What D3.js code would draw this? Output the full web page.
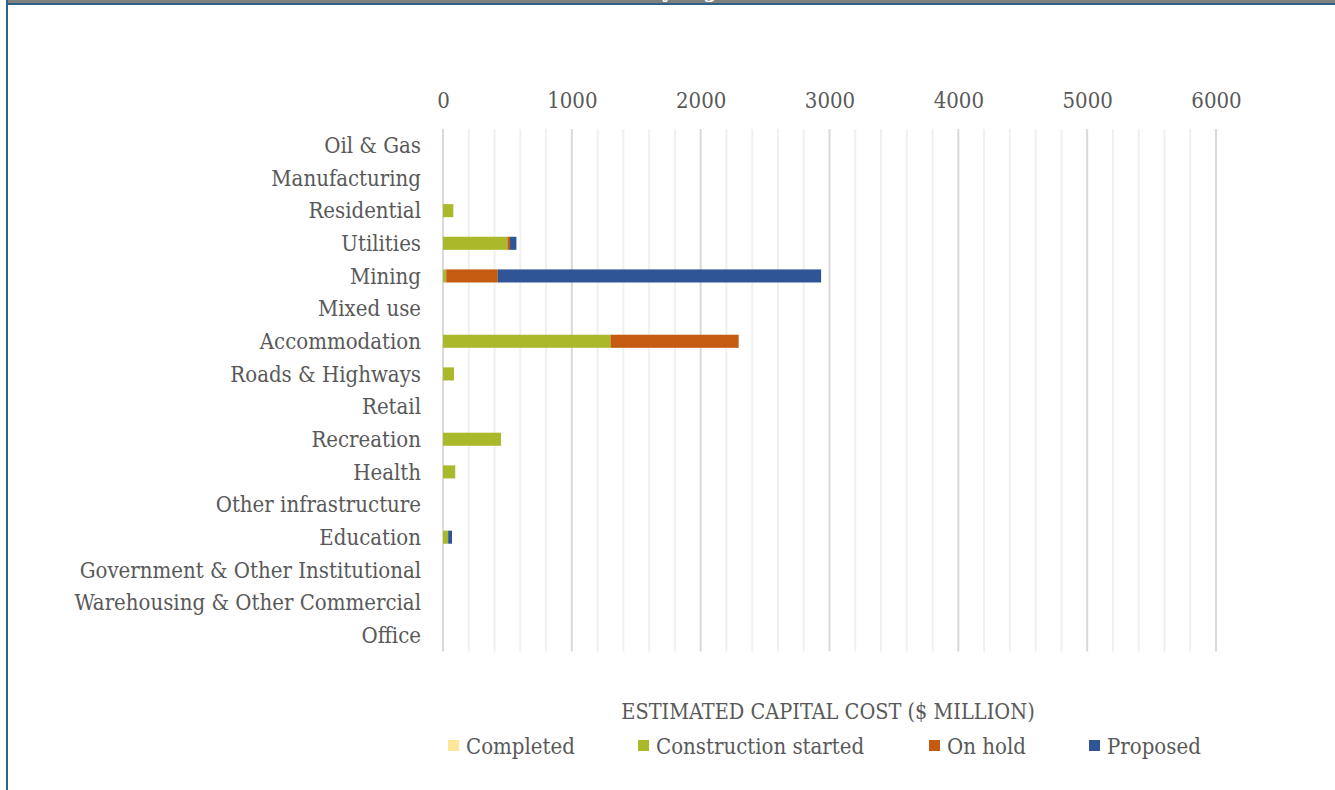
<!DOCTYPE html>
<html><head><meta charset="utf-8">
<script src="https://cdn.jsdelivr.net/npm/d3@7"></script>
<style>
html,body{margin:0;padding:0;background:#fff;}
svg{display:block;}
</style></head>
<body>
<script>
const categories = ["Oil & Gas","Manufacturing","Residential","Utilities","Mining","Mixed use","Accommodation","Roads & Highways","Retail","Recreation","Health","Other infrastructure","Education","Government & Other Institutional","Warehousing & Other Commercial","Office"];
const seriesNames = ["Completed","Construction started","On hold","Proposed"];
const completed =           [0,0,0,0,0,0,0,0,0,0,0,0,0,0,0,0];
const constructionStarted = [0,0,80,500,25,0,1300,85,0,450,95,0,40,0,0,0];
const onHold =              [0,0,0,20,400,0,995,0,0,0,0,0,0,0,0,0];
const proposed =            [0,0,0,50,2510,0,0,0,0,0,0,0,30,0,0,0];
const xTicks = [0,1000,2000,3000,4000,5000,6000];
const minorStep = 200;
const axisTitle = "ESTIMATED CAPITAL COST ($ MILLION)";
const colors = ["#FFE699","#A9B92A","#C55A11","#2F5597"];

const W = 1335, H = 790;
const svg = d3.select("body").append("svg").attr("width", W).attr("height", H);
const font = "'DejaVu Serif Condensed', 'DejaVu Serif', serif";
const fs = 22;
const textColor = "#595959";

// frame
svg.append("rect").attr("x",8).attr("y",0).attr("width",W-8).attr("height",3).attr("fill","#7F7F7F");
svg.append("clipPath").attr("id","tclip").append("rect").attr("x",8).attr("y",0).attr("width",W).attr("height",3);
svg.append("text").attr("clip-path","url(#tclip)").attr("x",700).attr("y",-3)
  .attr("text-anchor","middle").attr("font-family",font).attr("font-weight","bold")
  .attr("font-size",22).attr("fill","#fff").text("by region");
svg.append("rect").attr("x",8).attr("y",3).attr("width",W-8).attr("height",2).attr("fill","#2E6385");
svg.append("rect").attr("x",6).attr("y",0).attr("width",2).attr("height",H).attr("fill","#2E6385");

const x = d3.scaleLinear().domain([0,6000]).range([443,1216]);
const y = d3.scaleBand().domain(categories).range([129,651.5]).paddingInner(0.6).paddingOuter(0.3);

// minor grid
const minor = d3.range(0,6001,minorStep).filter(v => v % 1000 !== 0);
svg.append("g").selectAll("line").data(minor).join("line")
  .attr("x1",d=>x(d)).attr("x2",d=>x(d)).attr("y1",129).attr("y2",651.5)
  .attr("stroke","#F0F0F0").attr("stroke-width",2);
svg.append("g").selectAll("line").data(xTicks).join("line")
  .attr("x1",d=>x(d)).attr("x2",d=>x(d)).attr("y1",129).attr("y2",651.5)
  .attr("stroke","#D9D9D9").attr("stroke-width",2);

// top axis labels
const axisTop = d3.axisTop(x).tickValues(xTicks).tickSize(0).tickPadding(0).tickFormat(d3.format("d"));
const ga = svg.append("g").attr("transform","translate(0,108)").call(axisTop);
ga.select(".domain").remove();
ga.selectAll("text").attr("font-family",font).attr("font-size",fs).attr("fill",textColor);

// y labels
const ay = d3.axisLeft(y).tickSize(0).tickPadding(22);
const gy = svg.append("g").attr("transform","translate(443,0)").call(ay);
gy.select(".domain").remove();
gy.selectAll("text").attr("font-family",font).attr("font-size",fs).attr("fill",textColor).attr("dy","0.35em");

// stacked bars
const data = categories.map((c,i)=>({cat:c, "Completed":completed[i], "Construction started":constructionStarted[i], "On hold":onHold[i], "Proposed":proposed[i]}));
const stack = d3.stack().keys(seriesNames)(data);
svg.append("g").selectAll("g").data(stack).join("g").attr("fill",(d,i)=>colors[i])
  .selectAll("rect").data(d=>d).join("rect")
  .attr("x",d=>x(d[0])).attr("width",d=>Math.max(0,x(d[1])-x(d[0])))
  .attr("y",d=>y(d.data.cat)).attr("height",y.bandwidth());

// axis title
svg.append("text").attr("x",828).attr("y",719).attr("text-anchor","middle")
  .attr("font-family",font).attr("font-size",21.5).attr("fill",textColor).text(axisTitle);

// legend
const legX = [448,638,929,1089];
const lg = svg.append("g");
seriesNames.forEach((s,i)=>{
  lg.append("rect").attr("x",legX[i]).attr("y",740).attr("width",11).attr("height",11).attr("fill",colors[i]);
  lg.append("text").attr("x",legX[i]+18).attr("y",754).attr("font-family",font).attr("font-size",fs)
    .attr("fill",textColor).text(s);
});
</script>
</body></html>
